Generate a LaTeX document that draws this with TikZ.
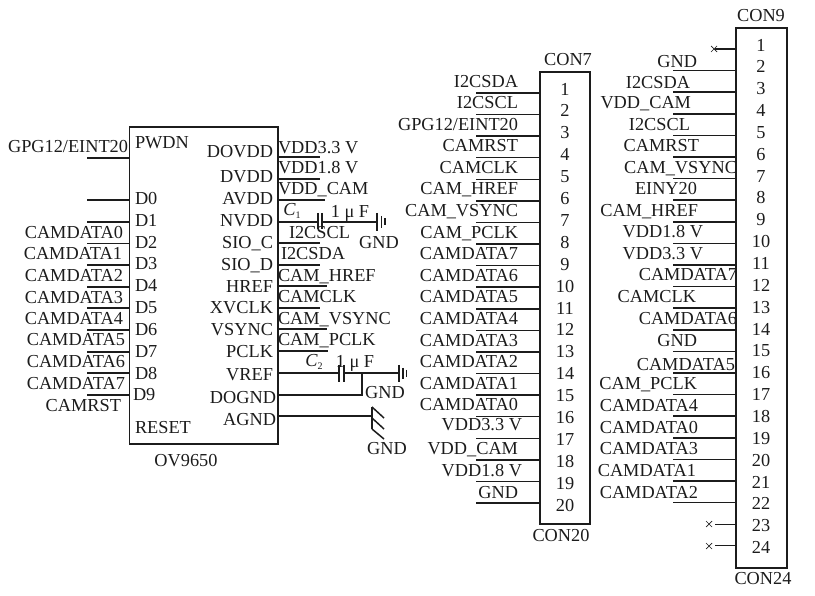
\documentclass[tikz,border=0pt]{standalone}
\usepackage{fontspec}
\setmainfont{Liberation Serif}
\definecolor{ink}{HTML}{1C1C1C}
\tikzset{
  lbl/.style={inner sep=0pt,outer sep=0pt,text=ink,font=\fontsize{18.3}{20}\selectfont},
  ic/.style={draw=ink,line width=1.5pt,fill=white,inner sep=0pt,outer sep=0pt},
  wire/.style={draw=ink,line width=1.5pt,line cap=butt},
  smallcross/.style={draw=ink,line width=0.7pt}
}
\newcommand{\subC}[1]{\textit{C}\raisebox{-2.5pt}{\fontsize{10}{10}\selectfont #1}}
\begin{document}
\begin{tikzpicture}[x=1pt,y=-1pt]
\useasboundingbox (0,0) rectangle (815,596);
% boxes
\node[ic,minimum width=148.5pt,minimum height=317pt] (u) at (203.75,285.5) {};
\node[ic,minimum width=50pt,minimum height=452pt] (con7) at (565,298) {};
\node[ic,minimum width=51pt,minimum height=540pt] (con9) at (761.5,298) {};
% OV9650 left wires
\foreach \k/\y in {a/158,b/200,c/222,d/243.5,e/265,f/287,g/308,h/330,i/352,j/373,l/395}{
  \coordinate (ul\k) at (87,\y);
  \draw[wire] (ul\k) -- (u.west |- ul\k);
}
% OV9650 right wires (plain)
\foreach \k/\y/\x in {a/157/320,b/179/320,c/200/325,d/243/320,e/265/320,f/286/327,g/308/320,h/329/327,i/351/328}{
  \coordinate (ur\k) at (\x,\y);
  \draw[wire] (u.east |- ur\k) -- (ur\k);
}
% C1
\coordinate (c1a) at (318,222); \coordinate (c1b) at (322,222); \coordinate (g1) at (377,222);
\draw[wire] (u.east |- c1a) -- (c1a);
\draw[wire] (c1b) -- (g1);
\draw[wire] (318,213) -- (318,229);
\draw[wire] (322,213) -- (322,229);
\draw[wire,line width=1.8pt] (377,213) -- (377,231);
\draw[wire] (381.5,216) -- (381.5,228);
\draw[wire,line width=1.2pt] (385,218.5) -- (385,225.5);
% C2
\coordinate (c2a) at (339,373); \coordinate (c2b) at (344,373); \coordinate (g2) at (399,373);
\coordinate (jn) at (362,373); \coordinate (jd) at (362,395);
\draw[wire] (u.east |- c2a) -- (c2a);
\draw[wire] (c2b) -- (g2);
\draw[wire] (jn) -- (jd) -- (u.east |- jd);
\draw[wire] (339,365) -- (339,382);
\draw[wire] (344,365) -- (344,382);
\draw[wire,line width=1.8pt] (399,365) -- (399,382);
\draw[wire] (403,368) -- (403,379);
\draw[wire,line width=1.2pt] (406.5,370) -- (406.5,377);
% AGND
\coordinate (ag) at (372,416);
\draw[wire] (u.east |- ag) -- (ag);
\draw[wire] (372,407) -- (372,429);
\draw[wire] (372,407) -- (384,418);
\draw[wire] (372,418) -- (384,429);
\draw[wire] (372,429) -- (384,439);
% connector wires
\foreach \k in {1,...,20}{
  \coordinate (p\k) at (476,{93+21.58*(\k-1)});
  \draw[wire] (p\k) -- (con7.west |- p\k);
  \node[lbl] (pn\k) at (565,{89+21.9*(\k-1)}) {\k};
}
\foreach \k in {2,...,22}{
  \coordinate (q\k) at (673,{49+21.6*(\k-1)});
  \draw[wire] (q\k) -- (con9.west |- q\k);
}
\foreach \k in {1,23,24}{
  \coordinate (q\k) at (715,{49+21.6*(\k-1)});
  \draw[wire,line width=1.2pt] (q\k) -- (con9.west |- q\k);
}
\foreach \k in {1,...,24}{
  \node[lbl] (qn\k) at (761,{45+21.85*(\k-1)}) {\k};
}
\foreach \xc/\yc in {714/49,709/524,709/546}{
  \draw[smallcross] (\xc-3,\yc-3) -- (\xc+3,\yc+3) (\xc-3,\yc+3) -- (\xc+3,\yc-3);
}
% labels placed by their left edge
\foreach \nm/\x/\y/\t in {
 pwdn/135/143/PWDN,d0/135/199/D0,d1/135/221/D1,d2/135/243/D2,d3/135/264/D3,d4/135/286/D4,
 d5/135/308/D5,d6/135/330/D6,d7/135/352/D7,d8/135/374/D8,d9/133/395/D9,reset/135/428/RESET,
 ra/278/148/VDD3.3 V,rb/278/168/VDD1.8 V,rc/278/189/VDD\_CAM,
 rd/289/233/I2CSCL,re/281/254/I2CSDA,rf/278/276/CAM\_HREF,rg/278/297/CAMCLK,
 rh/278/319/CAM\_VSYNC,ri/278/340/CAM\_PCLK
}{
  \node[lbl,anchor=base west] (\nm) at (\x,\y+6) {\t};
}
% labels placed by their right edge
\foreach \nm/\x/\y/\t in {
 la/128/147/{GPG12/EINT20},lb/123/233/CAMDATA0,lc/122/254/CAMDATA1,ld/123/276/CAMDATA2,
 le/123/298/CAMDATA3,lf/123/319/CAMDATA4,lg/125/340/CAMDATA5,lh/125/362/CAMDATA6,
 li/125/384/CAMDATA7,lj/121/405/CAMRST,
 pa/273/152/DOVDD,pb/273/177/DVDD,pc/273/199/AVDD,pd/273/221/NVDD,pe/273/243/SIO\_C,
 pf/273/265/SIO\_D,pg/273/287/HREF,ph/273/308/XVCLK,pi/273/330/VSYNC,pj/273/352/PCLK,
 pk/273/375/VREF,pl/276/397/DOGND,pm/276/419/AGND,
 a1/518/82/I2CSDA,a2/518/103/I2CSCL,a3/518/125/{GPG12/EINT20},a4/518/146/CAMRST,
 a5/518/168/CAMCLK,a6/518/189/CAM\_HREF,a7/518/211/CAM\_VSYNC,a8/518/233/CAM\_PCLK,
 a9/518/254/CAMDATA7,a10/518/276/CAMDATA6,a11/518/297/CAMDATA5,a12/518/319/CAMDATA4,
 a13/518/341/CAMDATA3,a14/518/362/CAMDATA2,a15/518/384/CAMDATA1,a16/518/404/CAMDATA0,
 a17/522/425/VDD3.3 V,a18/518/448/VDD\_CAM,a19/522/470/VDD1.8 V,a20/518/492/GND,
 b2/697/62/GND,b3/690/83/I2CSDA,b4/691/103/VDD\_CAM,b5/690/125/I2CSCL,b6/699/146/CAMRST,
 b7/737/168/CAM\_VSYNC,b8/697/189/EINY20,b9/698/211/CAM\_HREF,b10/703/232/VDD1.8 V,
 b11/703/254/VDD3.3 V,b12/737/275/CAMDATA7,b13/696/297/CAMCLK,b14/737/319/CAMDATA6,
 b15/697/341/GND,b16/735/365/CAMDATA5,b17/697/384/CAM\_PCLK,b18/698/406/CAMDATA4,
 b19/698/427/CAMDATA0,b20/698/448/CAMDATA3,b21/696/470/CAMDATA1,b22/698/492/CAMDATA2
}{
  \node[lbl,anchor=base east] (\nm) at (\x,\y+6) {\t};
}
% centred labels
\foreach \nm/\x/\y/\t in {
 ovname/186/461/OV9650,con7t/568/60/CON7,con20t/561/535/CON20,con9t/761/16/CON9,con24t/763/578/CON24,
 g1t/379/243/GND,g2t/385/393/GND,g3t/387/448/GND,f1/350/212/1 μ F,f2/355/362/1 μ F
}{
  \node[lbl,anchor=base] (\nm) at (\x,\y+6) {\t};
}
\node[lbl] (c1t) at (292,211) {\subC{1}};
\node[lbl] (c2t) at (314,362) {\subC{2}};
\end{tikzpicture}
\end{document}
